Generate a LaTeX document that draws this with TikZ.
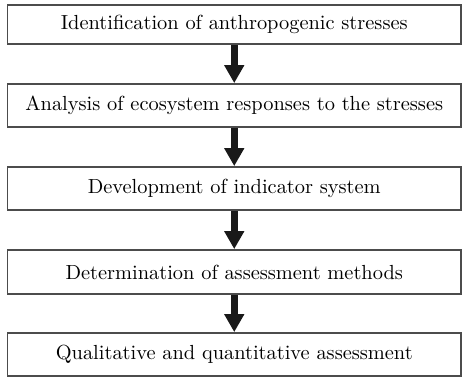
\documentclass[tikz,border=0pt]{standalone}
\usetikzlibrary{arrows.meta}
\begin{document}
\begin{tikzpicture}[x=0.5pt,y=-0.5pt,
  stagebox/.style={draw=black!70,line width=0.9pt,minimum width=226.75pt,
    inner sep=0pt,font=\fontsize{10.2}{12}\selectfont},
  flowarrow/.style={draw=black!90,line width=3.5pt,
    -{Triangle[width=9.5pt,length=9pt]}}]
  \useasboundingbox (0,0) rectangle (462,377);
  \node[stagebox,minimum height=19.5pt] (stress) at (234.25,24.5) {Identification of anthropogenic stresses};
  \node[stagebox,minimum height=21.5pt] (response) at (234.25,105.5) {Analysis of ecosystem responses to the stresses};
  \node[stagebox,minimum height=21.5pt] (indicator) at (234.25,188.5) {Development of indicator system};
  \node[stagebox,minimum height=22pt] (method) at (234.25,272) {Determination of assessment methods};
  \node[stagebox,minimum height=21.5pt] (assess) at (234.25,354.5) {Qualitative and quantitative assessment};
  \draw[flowarrow] (stress.south) -- (response.north);
  \draw[flowarrow] (response.south) -- (indicator.north);
  \draw[flowarrow] (indicator.south) -- (method.north);
  \draw[flowarrow] (method.south) -- (assess.north);
\end{tikzpicture}
\end{document}
